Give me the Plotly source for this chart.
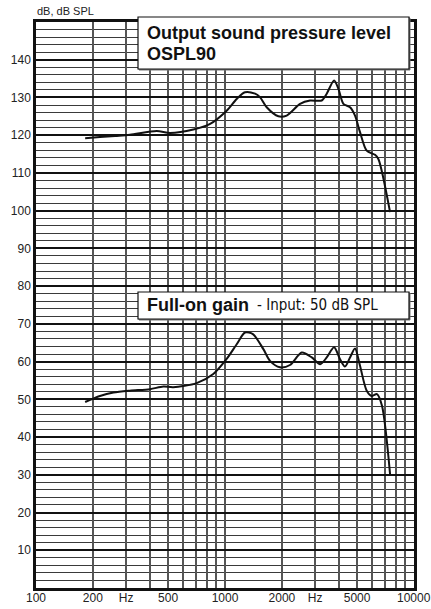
import plotly.graph_objects as go

# OSPL90 curve (Hz, dB SPL)
ospl_f = [182, 218, 262, 314, 435, 512, 680, 834, 1020, 1153, 1276, 1443, 1531, 1662, 1916, 2120,
          2494, 2818, 3249, 3453, 3777, 3982, 4230, 4587, 4875, 5180, 5620, 6220, 6478, 7470]
ospl_db = [119.2, 119.5, 119.8, 120.1, 121.1, 120.6, 121.5, 123.0, 126.5, 129.6, 131.4, 131.0, 130.1, 127.4, 125.0, 125.2,
           128.3, 129.2, 129.2, 131.0, 134.5, 132.3, 128.3, 127.4, 125.2, 120.8, 115.9, 114.8, 113.7, 99.6]

# Full-on gain curve (Hz, dB)
gain_f = [182, 218, 257, 314, 401, 472, 532, 708, 867, 1020, 1153, 1276, 1405, 1596, 1730, 1954, 2208,
          2548, 2878, 3187, 3453, 3777, 4056, 4312, 4587, 4875, 5180, 5620, 5990, 6370, 6770, 7470]
gain_db = [49.3, 50.9, 51.8, 52.3, 52.7, 53.4, 53.2, 54.3, 56.7, 60.7, 64.6, 67.7, 67.3, 63.3, 60.2, 58.5, 59.1,
           62.4, 61.1, 59.3, 61.1, 63.8, 60.7, 58.7, 61.1, 63.5, 58.9, 52.3, 50.9, 51.4, 48.3, 30.2]

x_tickvals = [100, 200, 300, 400, 500, 600, 700, 800, 900, 1000, 2000, 3000, 4000, 5000,
              6000, 7000, 8000, 9000, 10000]
x_ticktext = ["100", "200", "Hz", "", "500", "", "", "", "", "1000", "2000", "Hz", "", "5000",
              "", "", "", "", ""]
x_last_label = "10000"
y_tickvals = [10, 20, 30, 40, 50, 60, 70, 80, 90, 100, 110, 120, 130, 140]

FONT = "Liberation Sans, Arial, sans-serif"
NARROW = "DejaVu Sans Condensed, Liberation Sans, sans-serif"

fig = go.Figure()
fig.add_trace(go.Scatter(x=ospl_f, y=ospl_db, mode="lines",
                         line=dict(color="#111", width=2, shape="spline", smoothing=0.8),
                         showlegend=False, hoverinfo="skip"))
fig.add_trace(go.Scatter(x=gain_f, y=gain_db, mode="lines",
                         line=dict(color="#111", width=2, shape="spline", smoothing=0.8),
                         showlegend=False, hoverinfo="skip"))

fig.update_layout(
    width=431, height=609,
    margin=dict(l=36, r=17, t=22, b=21, autoexpand=False),
    paper_bgcolor="white", plot_bgcolor="white",
    font=dict(family=FONT, size=12, color="#222"),
    xaxis=dict(type="log", range=[2, 4], tickvals=x_tickvals, ticktext=x_ticktext,
               showgrid=True, gridcolor="#555", gridwidth=1.5, ticks="",
               automargin=False, ticklabelstandoff=-3,
               showline=True, linecolor="#111", linewidth=2.5, mirror=True,
               zeroline=False, tickfont=dict(family=FONT, size=12, color="#222")),
    yaxis=dict(range=[0, 150], tickvals=y_tickvals, automargin=False,
               showgrid=True, gridcolor="#111", gridwidth=1.5, ticks="",
               minor=dict(tick0=0, dtick=2, showgrid=True, gridcolor="#3a3a3a", gridwidth=1.3),
               showline=True, linecolor="#111", linewidth=2.5, mirror=True,
               zeroline=False, tickfont=dict(family=FONT, size=12, color="#222")),
)

def px_x(p):
    return (p - 36) / 378.0

def px_y(p):
    return (588 - p) / 566.0

# Legend boxes
for (t, b) in [(17, 69), (292, 319)]:
    fig.add_shape(type="rect", xref="paper", yref="paper",
                  x0=px_x(139), x1=px_x(410), y0=px_y(b + 1), y1=px_y(t + 1),
                  line=dict(color="#777", width=1), fillcolor="#777", layer="above")
    fig.add_shape(type="rect", xref="paper", yref="paper",
                  x0=px_x(138), x1=px_x(409), y0=px_y(b), y1=px_y(t),
                  line=dict(color="#111", width=1.2), fillcolor="white", layer="above")

fig.add_annotation(xref="paper", yref="paper", x=px_x(145), y=px_y(33),
                   xanchor="left", yanchor="middle", showarrow=False,
                   text="<b>Output sound pressure level</b>",
                   font=dict(family=FONT, size=18, color="#111"))
fig.add_annotation(xref="paper", yref="paper", x=px_x(145), y=px_y(54),
                   xanchor="left", yanchor="middle", showarrow=False,
                   text="<b>OSPL90</b>",
                   font=dict(family=FONT, size=18, color="#111"))
fig.add_annotation(xref="paper", yref="paper", x=px_x(145), y=px_y(305),
                   xanchor="left", yanchor="middle", showarrow=False,
                   text="<b>Full-on gain</b>",
                   font=dict(family=FONT, size=18, color="#111"))
fig.add_annotation(xref="paper", yref="paper", x=px_x(255), y=px_y(305),
                   xanchor="left", yanchor="middle", showarrow=False,
                   text="- Input: 50 dB SPL",
                   font=dict(family=NARROW, size=15, color="#111"))
fig.add_annotation(xref="paper", yref="paper", x=px_x(35), y=px_y(11),
                   xanchor="left", yanchor="middle", showarrow=False,
                   text="dB, dB SPL", font=dict(family=FONT, size=11, color="#222"))
fig.add_annotation(xref="x", yref="paper", x=4, y=px_y(598),
                   xanchor="center", yanchor="middle", showarrow=False,
                   text=x_last_label, font=dict(family=FONT, size=12, color="#222"))

fig.write_html("out.html")
